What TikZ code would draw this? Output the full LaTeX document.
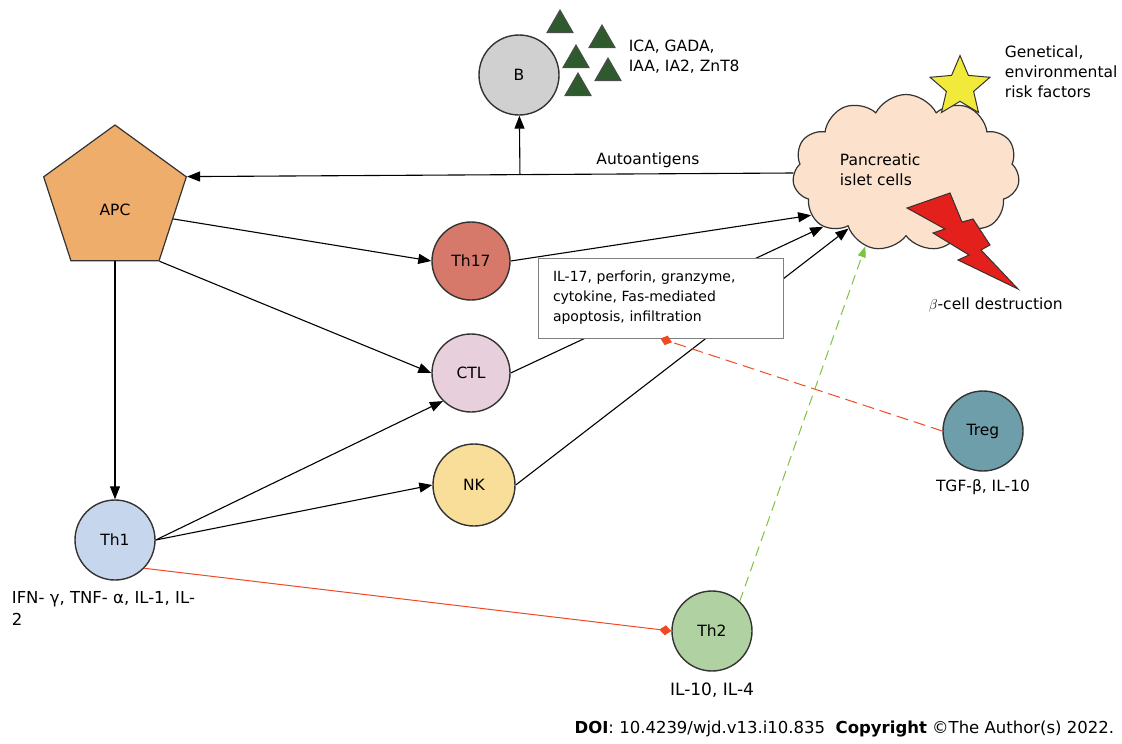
\documentclass[tikz,border=0pt]{standalone}
\usepackage{fontspec}
\setmainfont{DejaVu Sans}
\usetikzlibrary{shapes.geometric, shapes.symbols, arrows.meta, positioning}

\definecolor{bcol}{HTML}{D0D0D0}
\definecolor{apccol}{HTML}{EFAD6B}
\definecolor{th17col}{HTML}{D6796A}
\definecolor{ctlcol}{HTML}{E7D0DB}
\definecolor{nkcol}{HTML}{F8DE99}
\definecolor{th1col}{HTML}{C6D6ED}
\definecolor{th2col}{HTML}{B0D2A3}
\definecolor{tregcol}{HTML}{6E9EA9}
\definecolor{cloudcol}{HTML}{FCE2CC}
\definecolor{starcol}{HTML}{F2EA3A}
\definecolor{boltcol}{HTML}{E3201C}
\definecolor{antigencol}{HTML}{2E5A2E}
\definecolor{redline}{HTML}{EF4A24}
\definecolor{greenline}{HTML}{7DC243}

\begin{document}
\begin{tikzpicture} [x=1pt, y=-1pt, ->, >={Triangle[length=13pt,width=10pt]}, line width=1.1pt,
	every node/.style={font=\fontsize{15.5}{20}\selectfont},
	cell/.style={circle, draw=black!80, line width=1.4pt, minimum size=80pt, inner sep=0pt},
	antigen/.style={regular polygon, regular polygon sides=3, minimum size=30pt, inner sep=0pt,
		draw=black!70, line width=1pt, fill=antigencol}]
	\useasboundingbox (0,0) rectangle (1122,744);
	
	\node[regular polygon, regular polygon sides=5, minimum size=150pt, inner sep=0pt, draw=black!80,
		line width=1.2pt, fill=apccol, label={[yshift=-10pt]center:APC}] (apc) at (115,200) {};
	\node[cell, fill=bcol] (b) at (519,75) {B};
	\node[cell, fill=th17col, minimum size=78pt] (th17) at (471,261) {Th17};
	\node[cell, fill=ctlcol, minimum size=78pt] (ctl) at (471,373) {CTL};
	\node[cell, fill=nkcol, minimum size=82pt] (nk) at (474,485) {NK};
	\node[cell, fill=th1col] (th1) at (115,540) {Th1};
	\node[cell, fill=th2col] (th2) at (712,631) {Th2};
	\node[cell, fill=tregcol] (treg) at (983,431) {Treg};
	
	\foreach \tx/\ty [count=\i] in {560/25, 602/40, 576/60, 608/73, 578/88}
		\node[antigen] (ag\i) at (\tx,\ty) {};
	\node[anchor=west, align=left] (abs) at (625,57) {ICA, GADA,\\IAA, IA2, ZnT8};
	
	\node[cloud, cloud puffs=11, cloud puff arc=125, aspect=1.45, draw=black!80, line width=1.2pt,
		fill=cloudcol, minimum width=227pt, minimum height=157pt] (cloud) at (906,173) {};
	\node[anchor=west, align=left] (islet) at (836,170) {Pancreatic\\islet cells};
	\node[star, star points=5, star point ratio=2.2, minimum size=63pt, inner sep=0pt, draw=black!80,
		line width=1pt, fill=starcol] (star) at (960,87) {};
	\node[anchor=west, align=left] (risk) at (1001,72) {Genetical,\\environmental\\risk factors};
	\filldraw[-, fill=boltcol, draw=black!80, line width=1pt] (907,208) -- (950,193) -- (962,222)
		-- (973,219) -- (990,245) -- (981,250) -- (1018,289) -- (958,260) -- (969,255)
		-- (933,233) -- (945,229) -- cycle;
	\node[anchor=west] (destr) at (925,305) {$\beta$-cell destruction};
	
	\draw (cloud.west) -- node[pos=0.24, above=2pt] (autoag) {Autoantigens}
		coordinate[pos=0.451] (jn) (apc.corner 5);
	\draw (jn) -- (b);
	
	\path
	(apc.side 4) edge (th17.west)
	(apc.corner 4) edge (ctl.west)
	(apc.side 3) edge (th1.north)
	(th1.east) edge (ctl.225)
	edge (nk.west)
	(th17.east) edge (cloud.204)
	(ctl.east) edge (cloud.213)
	(nk.east) edge (cloud.224);
	
	\node[draw=black!50, fill=white, line width=1pt, text width=215pt, inner xsep=15pt,
		minimum height=80pt, align=left, font=\fontsize{14}{20}\selectfont] (box) at (660.5,298)
		{IL-17, perforin, granzyme,\\cytokine, Fas-mediated\\apoptosis, infiltration};
	
	\draw[-{Diamond[length=12pt,width=10pt]}, redline, line width=1pt] (th1.-44) -- (th2.west);
	\draw[-{Diamond[length=12pt,width=10pt]}, redline, line width=1pt, dash pattern=on 12pt off 6pt]
		(treg.west) -- (box.south);
	\draw[-{Triangle[length=11pt,width=8pt]}, greenline, line width=1pt, dash pattern=on 10pt off 6pt]
		(th2.47) -- (cloud.-119);
	
	\node[anchor=west, align=left, font=\fontsize{16.5}{22}\selectfont] (th1lab) at (8,608)
		{IFN- γ, TNF- α, IL-1, IL-\\2};
	\node[font=\fontsize{17}{20}\selectfont] (th2lab) at (712,690) {IL-10, IL-4};
	\node (treglab) at (983,487) {TGF-β, IL-10};
	\node[anchor=east, font=\fontsize{16.5}{20}\selectfont] (doi) at (1118,729)
		{\textbf{DOI}: 10.4239/wjd.v13.i10.835\ \ \textbf{Copyright} ©The Author(s) 2022.};
\end{tikzpicture}
\end{document}
